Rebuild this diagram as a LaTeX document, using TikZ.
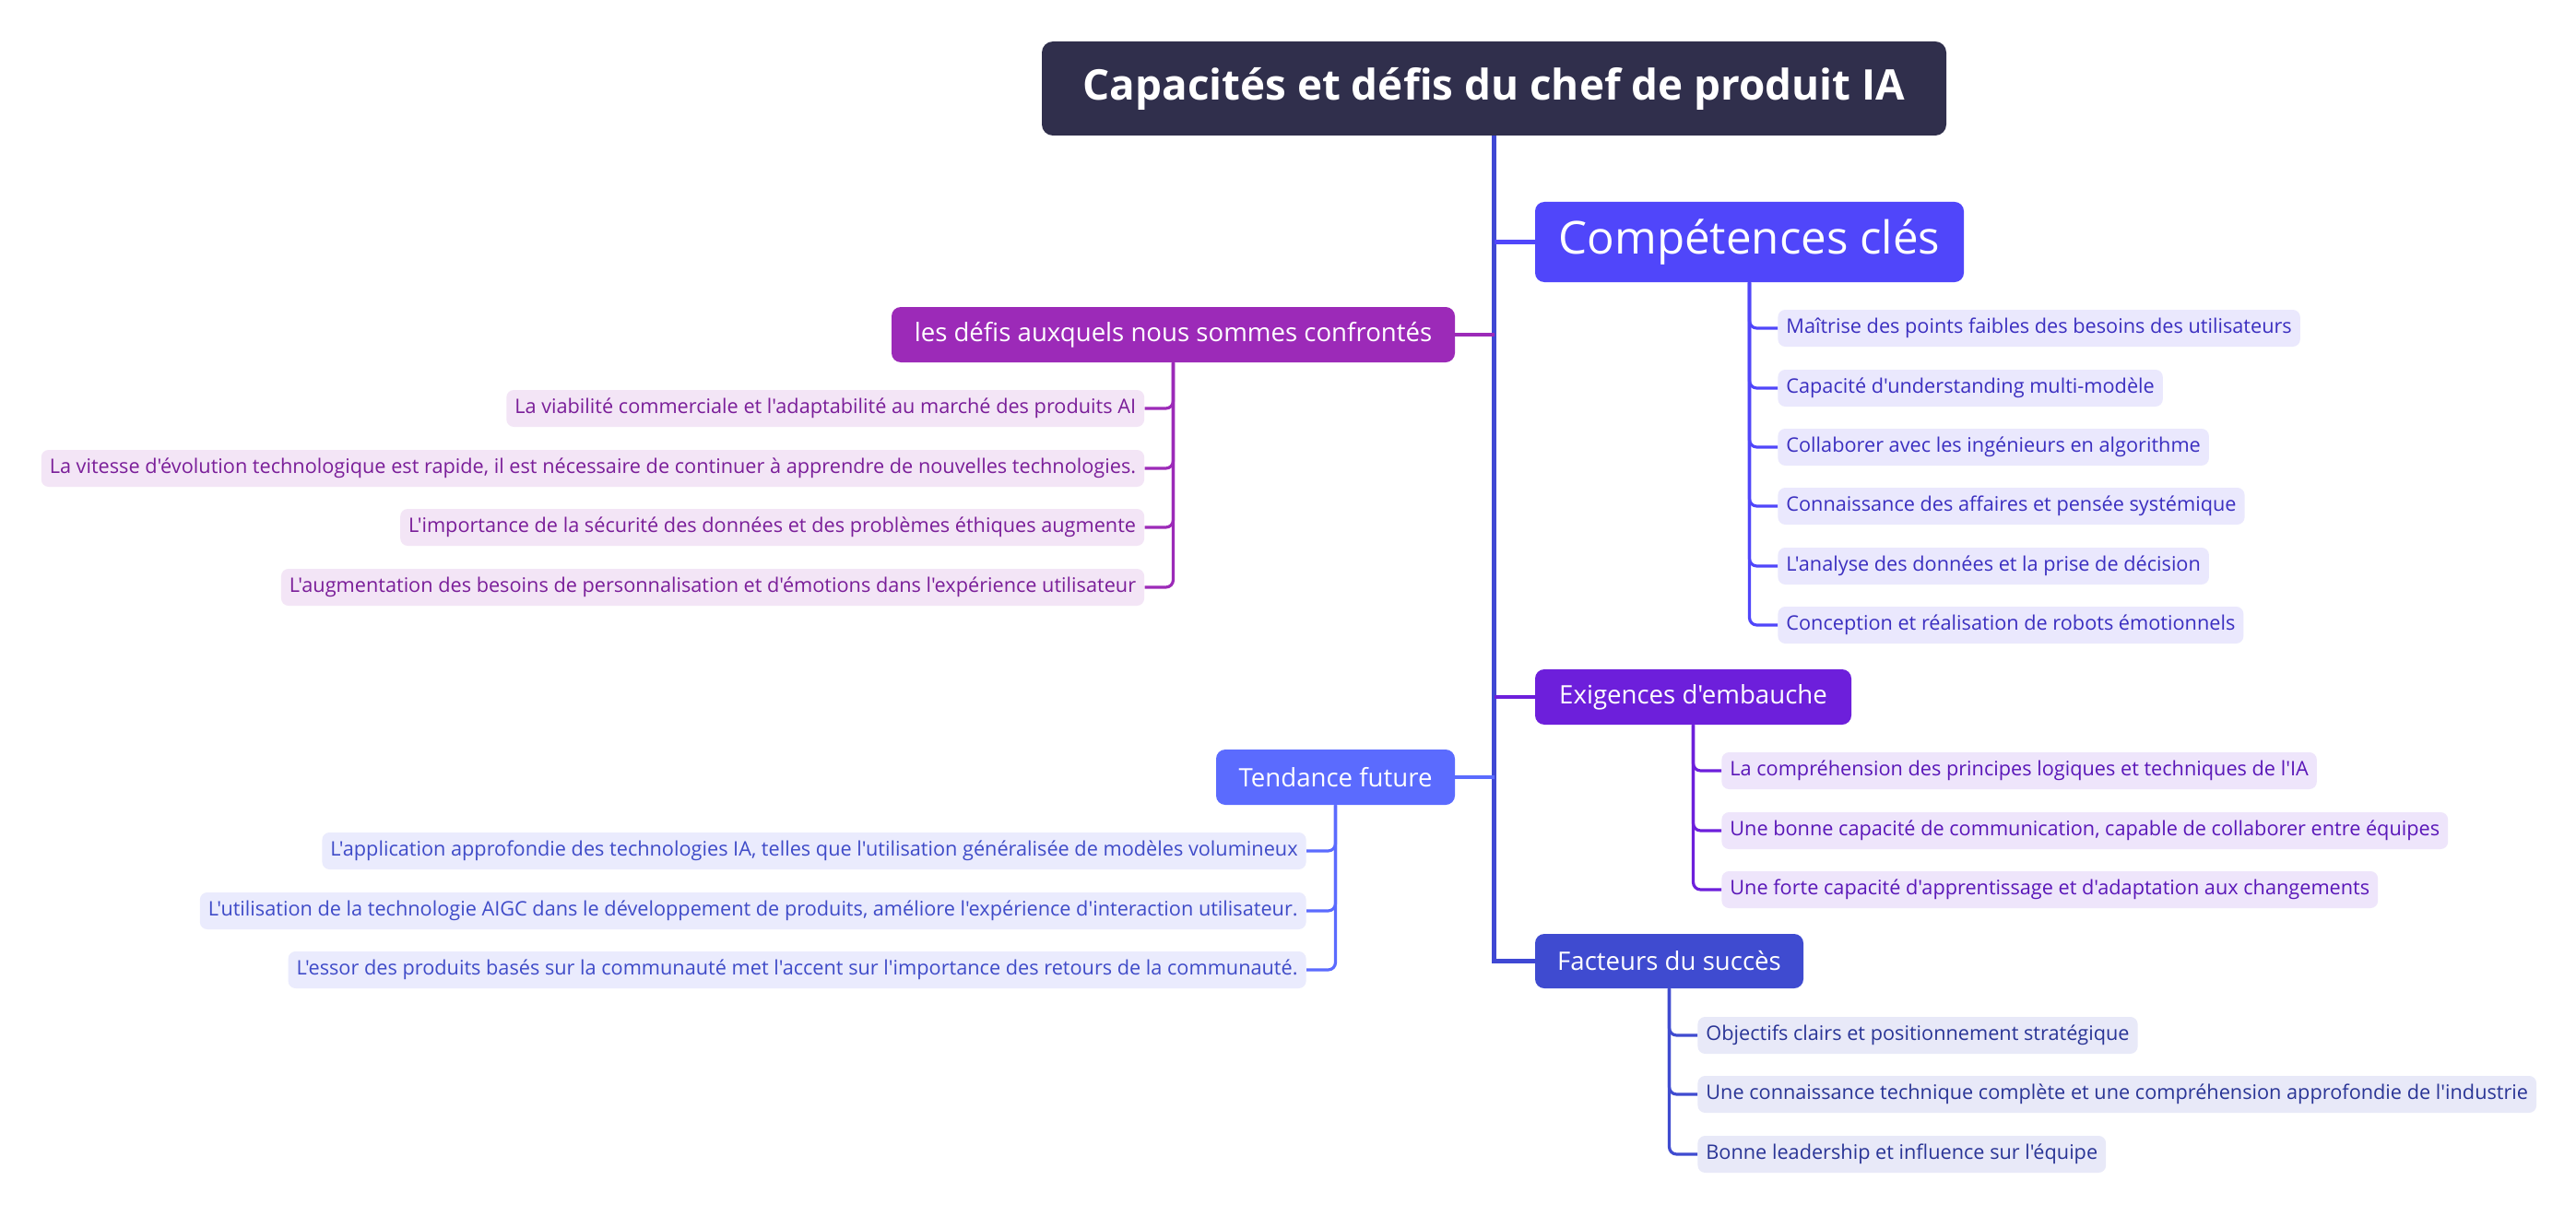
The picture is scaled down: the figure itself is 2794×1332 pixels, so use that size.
\documentclass[tikz,border=0pt]{standalone}
\usepackage{fontspec}
\setmainfont{Open Sans}[Ligatures=TeXOff]
\definecolor{rootC}{HTML}{302F4C}
\definecolor{trunkC}{HTML}{3F48D4}
\definecolor{ccC}{HTML}{5046FA}
\definecolor{dfC}{HTML}{9C2AB8}
\definecolor{exC}{HTML}{6D1FDB}
\definecolor{tdC}{HTML}{5B6BFE}
\definecolor{fcC}{HTML}{3F4BD0}
\definecolor{ccF}{HTML}{EAE8FD}\definecolor{ccT}{HTML}{3B2FC0}
\definecolor{dfF}{HTML}{F3E5F6}\definecolor{dfT}{HTML}{7A1E99}
\definecolor{exF}{HTML}{EEE5FB}\definecolor{exT}{HTML}{5A17B8}
\definecolor{tdF}{HTML}{EAEBFD}\definecolor{tdT}{HTML}{3F4BC8}
\definecolor{fcF}{HTML}{E8E9F8}\definecolor{fcT}{HTML}{2A3596}
\tikzset{
  rootbox/.style={fill=rootC, rounded corners=6pt, text=white, inner sep=0pt,
    font=\bfseries\fontsize{22.9}{26}\selectfont, minimum width=490.5pt, minimum height=51pt},
  mainbox/.style={fill=#1, rounded corners=5pt, text=white, inner sep=0pt,
    font=\fontsize{13.8}{16}\selectfont, minimum height=30pt},
  leaf/.style 2 args={fill=#1, text=#2, rounded corners=4pt, inner xsep=4.5pt, inner ysep=0pt,
    font=\fontsize{10.85}{12}\selectfont, minimum height=20pt},
  trunk/.style={draw=trunkC, line width=2.4pt},
  branch/.style={draw=#1, line width=2.4pt},
  twig/.style={draw=#1, line width=1.6pt, rounded corners=4pt},
}
\begin{document}
\begin{tikzpicture}[x=0.5pt,y=-0.5pt]
\fill[white] (0,0) rectangle (2794,1332);
\useasboundingbox (0,0) rectangle (2794,1332);

% main nodes
\node[rootbox] (root) at (1620.5,96) {Capacités et défis du chef de produit IA};
\node[mainbox=ccC, font=\fontsize{24.6}{28}\selectfont, minimum width=232.5pt, minimum height=43.5pt] (cc) at (1897.5,262.5) {Compétences clés};
\node[mainbox=dfC, minimum width=305.5pt] (defis) at (1272.5,363) {les défis auxquels nous sommes confrontés};
\node[mainbox=exC, minimum width=171.5pt] (exig) at (1836.5,756) {Exigences d'embauche};
\node[mainbox=tdC, minimum width=129.5pt] (tend) at (1448.5,843) {Tendance future};
\node[mainbox=fcC, minimum width=145.5pt, minimum height=29.5pt] (fact) at (1810.5,1042.5) {Facteurs du succès};

% Compétences clés leaves
\node[leaf={ccF}{ccT}, anchor=west] (cc1) at (1928,356) {Maîtrise des points faibles des besoins des utilisateurs};
\node[leaf={ccF}{ccT}, anchor=west] (cc2) at (1928,421) {Capacité d'understanding multi-modèle};
\node[leaf={ccF}{ccT}, anchor=west] (cc3) at (1928,485) {Collaborer avec les ingénieurs en algorithme};
\node[leaf={ccF}{ccT}, anchor=west] (cc4) at (1928,549) {Connaissance des affaires et pensée systémique};
\node[leaf={ccF}{ccT}, anchor=west] (cc5) at (1928,614) {L'analyse des données et la prise de décision};
\node[leaf={ccF}{ccT}, anchor=west] (cc6) at (1928,678) {Conception et réalisation de robots émotionnels};

% défis leaves
\node[leaf={dfF}{dfT}, anchor=east] (d1) at (1241.5,443) {La viabilité commerciale et l'adaptabilité au marché des produits AI};
\node[leaf={dfF}{dfT}, anchor=east] (d2) at (1241.5,508) {La vitesse d'évolution technologique est rapide, il est nécessaire de continuer à apprendre de nouvelles technologies.};
\node[leaf={dfF}{dfT}, anchor=east] (d3) at (1241.5,572) {L'importance de la sécurité des données et des problèmes éthiques augmente};
\node[leaf={dfF}{dfT}, anchor=east] (d4) at (1241.5,637) {L'augmentation des besoins de personnalisation et d'émotions dans l'expérience utilisateur};

% exigences leaves
\node[leaf={exF}{exT}, anchor=west] (e1) at (1867,836) {La compréhension des principes logiques et techniques de l'IA};
\node[leaf={exF}{exT}, anchor=west] (e2) at (1867,901) {Une bonne capacité de communication, capable de collaborer entre équipes};
\node[leaf={exF}{exT}, anchor=west] (e3) at (1867,965) {Une forte capacité d'apprentissage et d'adaptation aux changements};

% tendance leaves
\node[leaf={tdF}{tdT}, anchor=east] (t1) at (1417,923) {L'application approfondie des technologies IA, telles que l'utilisation généralisée de modèles volumineux};
\node[leaf={tdF}{tdT}, anchor=east] (t2) at (1417,988) {L'utilisation de la technologie AIGC dans le développement de produits, améliore l'expérience d'interaction utilisateur.};
\node[leaf={tdF}{tdT}, anchor=east] (t3) at (1417,1052) {L'essor des produits basés sur la communauté met l'accent sur l'importance des retours de la communauté.};

% facteurs leaves
\node[leaf={fcF}{fcT}, anchor=west] (f1) at (1841,1123) {Objectifs clairs et positionnement stratégique};
\node[leaf={fcF}{fcT}, anchor=west] (f2) at (1841,1187) {Une connaissance technique complète et une compréhension approfondie de l'industrie};
\node[leaf={fcF}{fcT}, anchor=west] (f3) at (1841,1252) {Bonne leadership et influence sur l'équipe};

% main trunk and branches
\draw[trunk] (root.south) |- (fact.west);
\draw[branch=ccC] (root.south |- cc.west) -- (cc.west);
\draw[branch=dfC] (root.south |- defis.east) -- (defis.east);
\draw[branch=exC] (root.south |- exig.west) -- (exig.west);
\draw[branch=tdC] (root.south |- tend.east) -- (tend.east);

% twigs
\foreach \c in {cc1,cc2,cc3,cc4,cc5,cc6} \draw[twig=ccC] (cc.south) |- (\c.west);
\foreach \c in {d1,d2,d3,d4} \draw[twig=dfC] (defis.south) |- (\c.east);
\foreach \c in {e1,e2,e3} \draw[twig=exC] (exig.south) |- (\c.west);
\foreach \c in {t1,t2,t3} \draw[twig=tdC] (tend.south) |- (\c.east);
\foreach \c in {f1,f2,f3} \draw[twig=fcC] (fact.south) |- (\c.west);
\end{tikzpicture}
\end{document}
